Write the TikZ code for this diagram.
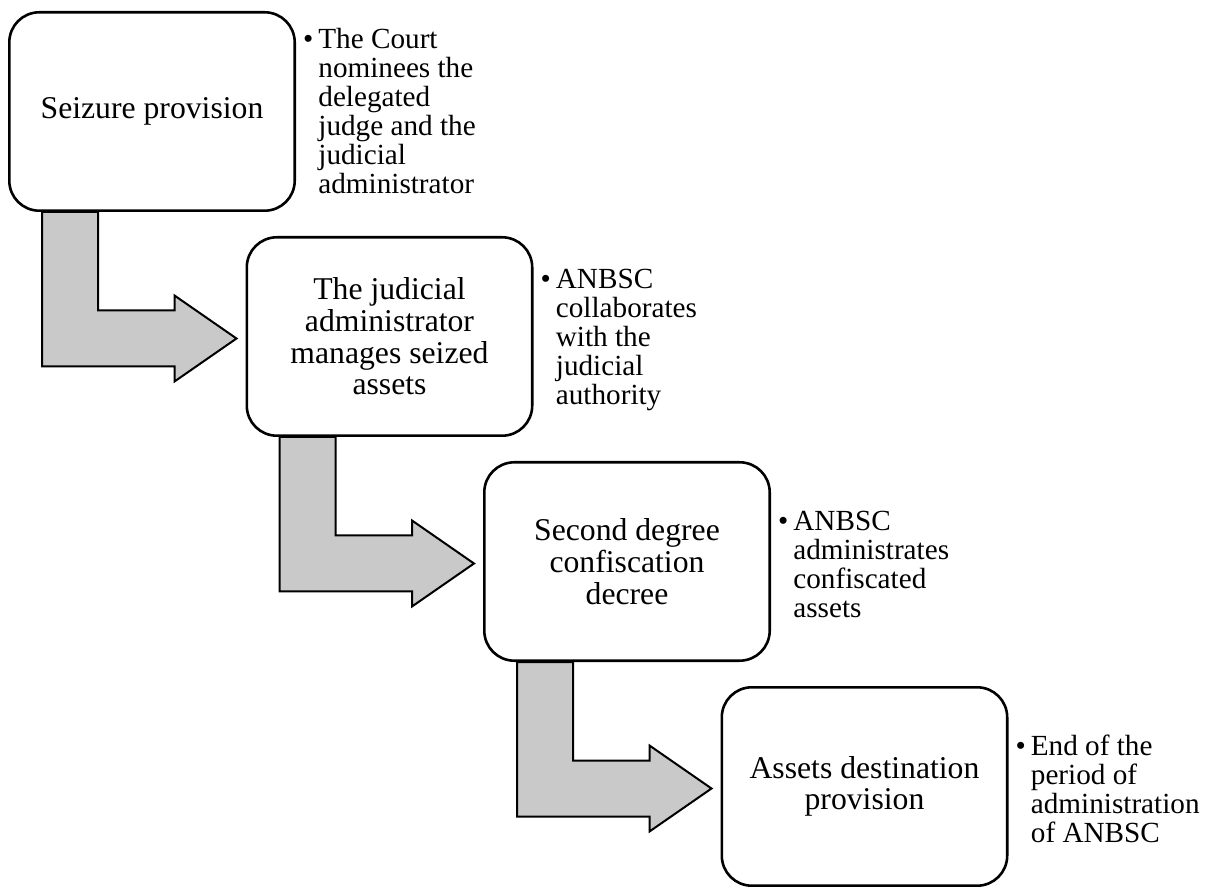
\documentclass[tikz,border=0pt]{standalone}
\usepackage{fontspec}
\setmainfont{Liberation Serif}
\usetikzlibrary{calc}
\definecolor{arrowgray}{RGB}{201,201,201}

\begin{document}
\begin{tikzpicture}[x=0.5pt,y=0.5pt,yscale=-1,xscale=1,
    stepbox/.style={draw, line width=1.3pt, rounded corners=15pt, fill=white,
        minimum width=142.7pt, minimum height=99.2pt, inner sep=0pt,
        align=center, font=\fontsize{15.85}{15.85}\selectfont},
    notetext/.style={anchor=west, inner sep=0pt, align=left,
        font=\fontsize{14.6}{14.5}\selectfont},
    bentarrow/.style={draw, line width=1pt, fill=arrowgray, line join=miter}]
\useasboundingbox (0,0) rectangle (1211,887);

%Rounded Rect
    \node (seize) [stepbox] at (152,111.5) {Seizure provision};
%Rounded Rect
    \node (manage) [stepbox] at (389.5,336.5) {The judicial\\administrator\\manages seized\\assets};
%Rounded Rect
    \node (confisc) [stepbox] at (627,561.5) {Second degree\\confiscation\\decree};
%Rounded Rect
    \node (destin) [stepbox] at (864.5,786.5) {Assets destination\\provision};

% Text Node
    \node (seizeNote) [notetext] at ($(seize.east)+(22,0)$) {\llap{\textbullet\hspace{2.5pt}}The Court\\nominees the\\delegated\\judge and the\\judicial\\administrator};
% Text Node
    \node (manageNote) [notetext] at ($(manage.east)+(22,3)$) {\llap{\textbullet\hspace{2.5pt}}ANBSC\\collaborates\\with the\\judicial\\authority};
% Text Node
    \node (confiscNote) [notetext] at ($(confisc.east)+(22,3)$) {\llap{\textbullet\hspace{2.5pt}}ANBSC\\administrates\\confiscated\\assets};
% Text Node
    \node (destinNote) [notetext] at ($(destin.east)+(22,2)$) {\llap{\textbullet\hspace{2.5pt}}End of the\\period of\\administration\\of ANBSC};

%Bent Arrow
    \coordinate (a1) at ($(seize.south west)+(34,0)$);
    \coordinate (t1) at ($(manage.west)+(-9,2)$);
    \draw [bentarrow] (a1) -- ++(56,0) |- ($(t1)+(-62,-28)$) -- ++(0,-15) -- (t1) -- ++(-62,43) -- ++(0,-15) -| (a1) -- cycle;
%Bent Arrow
    \coordinate (a2) at ($(manage.south west)+(34,0)$);
    \coordinate (t2) at ($(confisc.west)+(-9,2)$);
    \draw [bentarrow] (a2) -- ++(56,0) |- ($(t2)+(-62,-28)$) -- ++(0,-15) -- (t2) -- ++(-62,43) -- ++(0,-15) -| (a2) -- cycle;
%Bent Arrow
    \coordinate (a3) at ($(confisc.south west)+(34,0)$);
    \coordinate (t3) at ($(destin.west)+(-9,2)$);
    \draw [bentarrow] (a3) -- ++(56,0) |- ($(t3)+(-62,-28)$) -- ++(0,-15) -- (t3) -- ++(-62,43) -- ++(0,-15) -| (a3) -- cycle;

\end{tikzpicture}
\end{document}
